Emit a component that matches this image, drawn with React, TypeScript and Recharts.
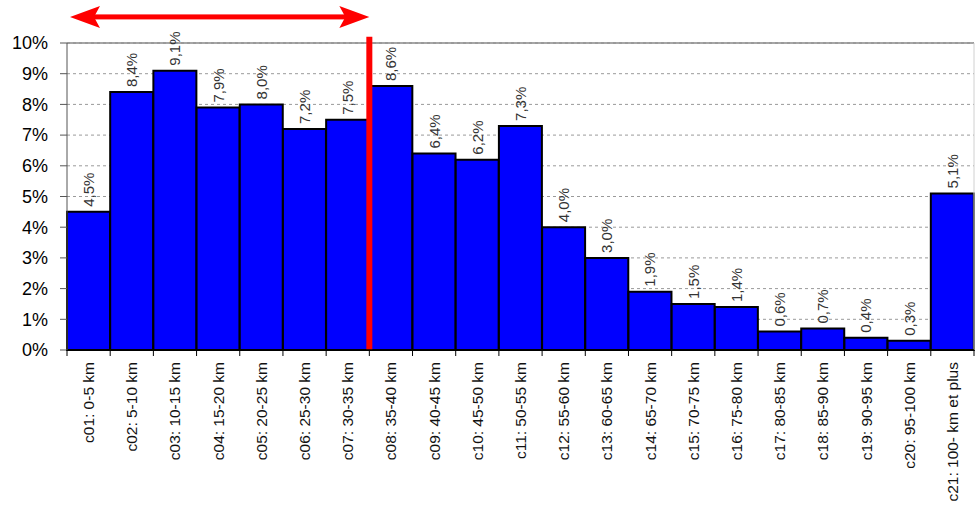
import {
  BarChart, Bar, XAxis, YAxis, CartesianGrid, ReferenceLine, LabelList,
} from 'recharts';

const categories = [
  'c01: 0-5 km', 'c02: 5-10 km', 'c03: 10-15 km', 'c04: 15-20 km', 'c05: 20-25 km',
  'c06: 25-30 km', 'c07: 30-35 km', 'c08: 35-40 km', 'c09: 40-45 km', 'c10: 45-50 km',
  'c11: 50-55 km', 'c12: 55-60 km', 'c13: 60-65 km', 'c14: 65-70 km', 'c15: 70-75 km',
  'c16: 75-80 km', 'c17: 80-85 km', 'c18: 85-90 km', 'c19: 90-95 km', 'c20: 95-100 km',
  'c21: 100- km et plus',
];
const shares = [4.5, 8.4, 9.1, 7.9, 8.0, 7.2, 7.5, 8.6, 6.4, 6.2, 7.3, 4.0, 3.0, 1.9, 1.5, 1.4, 0.6, 0.7, 0.4, 0.3, 5.1];
const yTicks = [0, 1, 2, 3, 4, 5, 6, 7, 8, 9, 10];

// annotation: classes c01..c07 marked by the arrow, cut drawn at the start of c08
const cutCategory = categories[7];
const arrowLevel = 10.85;
const cutTop = 10.2;

const W = 975;
const H = 509;
const M = { top: 43, right: 1, bottom: 0, left: 0 };
const Y_AXIS_W = 67;
const band = (W - Y_AXIS_W - M.left - M.right) / categories.length;

const data = categories.map((cat, i) => ({ cat, share: shares[i] }));

function fmt(v: number) {
  return v.toFixed(1).replace('.', ',') + '%';
}

function CatTick(props: any) {
  const { x, y, payload, index } = props;
  const ty = y + 12;
  const left = x - band / 2;
  return (
    <g>
      <line x1={left} x2={left} y1={y} y2={y + 6} stroke="#000" />
      {index === categories.length - 1 && (
        <line x1={x + band / 2} x2={x + band / 2} y1={y} y2={y + 6} stroke="#000" />
      )}
      <text
        x={x} y={ty} transform={`rotate(-90, ${x}, ${ty})`}
        textAnchor="end" dominantBaseline="central" fontSize={15.5} fill="#111"
      >
        {payload.value}
      </text>
    </g>
  );
}

function ValueLabel(props: any) {
  const { x, y, width, value } = props;
  const cx = x + width / 2;
  const ty = y - 5;
  return (
    <text
      x={cx} y={ty} transform={`rotate(-90, ${cx}, ${ty})`}
      textAnchor="start" dominantBaseline="central" fontSize={15} fill="#333"
    >
      {fmt(value)}
    </text>
  );
}

function Arrow(props: any) {
  const { x1, x2, y1 } = props;
  const left = Math.min(x1, x2) + 3;
  const right = Math.max(x1, x2);
  const y = y1;
  const hl = 30, hh = 11, back = 24;
  return (
    <g fill="#ff0000" stroke="none">
      <rect x={left + back - 2} y={y - 2.5} width={right - left - 2 * back + 4} height={5} />
      <polygon points={`${left},${y} ${left + hl},${y - hh} ${left + back},${y} ${left + hl},${y + hh}`} />
      <polygon points={`${right},${y} ${right - hl},${y - hh} ${right - back},${y} ${right - hl},${y + hh}`} />
    </g>
  );
}

export default function App() {
  return (
    <div style={{
      position: 'absolute', left: 0, top: 0, width: W, height: H,
      background: '#fff', fontFamily: 'Arial, "Liberation Sans", sans-serif',
    }}>
      <BarChart
        width={W} height={H} data={data} margin={M}
        barCategoryGap={0} barGap={0}
      >
        <CartesianGrid vertical={false} stroke="#9a9a9a" strokeDasharray="3 3" />
        <XAxis
          dataKey="cat" interval={0} height={159} tick={<CatTick />}
          tickLine={false} tickSize={0} tickMargin={0}
          axisLine={{ stroke: '#000', strokeWidth: 1.5 }}
        />
        <YAxis
          domain={[0, 10]} ticks={yTicks} width={Y_AXIS_W} tickSize={7} tickMargin={12}
          tickFormatter={(v) => `${v}%`}
          tick={{ fontSize: 18, fill: '#000' }}
          axisLine={{ stroke: '#555' }} tickLine={{ stroke: '#555' }}
        />
        <ReferenceLine y={10} stroke="#888" strokeWidth={1.5} />
        <ReferenceLine x={categories[categories.length - 1]} position="end" stroke="#d0d0d0" />
        <Bar dataKey="share" fill="#0000ff" stroke="#000" strokeWidth={2} isAnimationActive={false}>
          <LabelList dataKey="share" content={<ValueLabel />} />
        </Bar>
        <ReferenceLine
          ifOverflow="visible" position="start" stroke="#ff0000" strokeWidth={6}
          segment={[{ x: cutCategory, y: 0 }, { x: cutCategory, y: cutTop }]}
        />
        <ReferenceLine
          ifOverflow="visible" position="start"
          segment={[{ x: categories[0], y: arrowLevel }, { x: cutCategory, y: arrowLevel }]}
          shape={(p: any) => <Arrow {...p} />}
        />
      </BarChart>
    </div>
  );
}
